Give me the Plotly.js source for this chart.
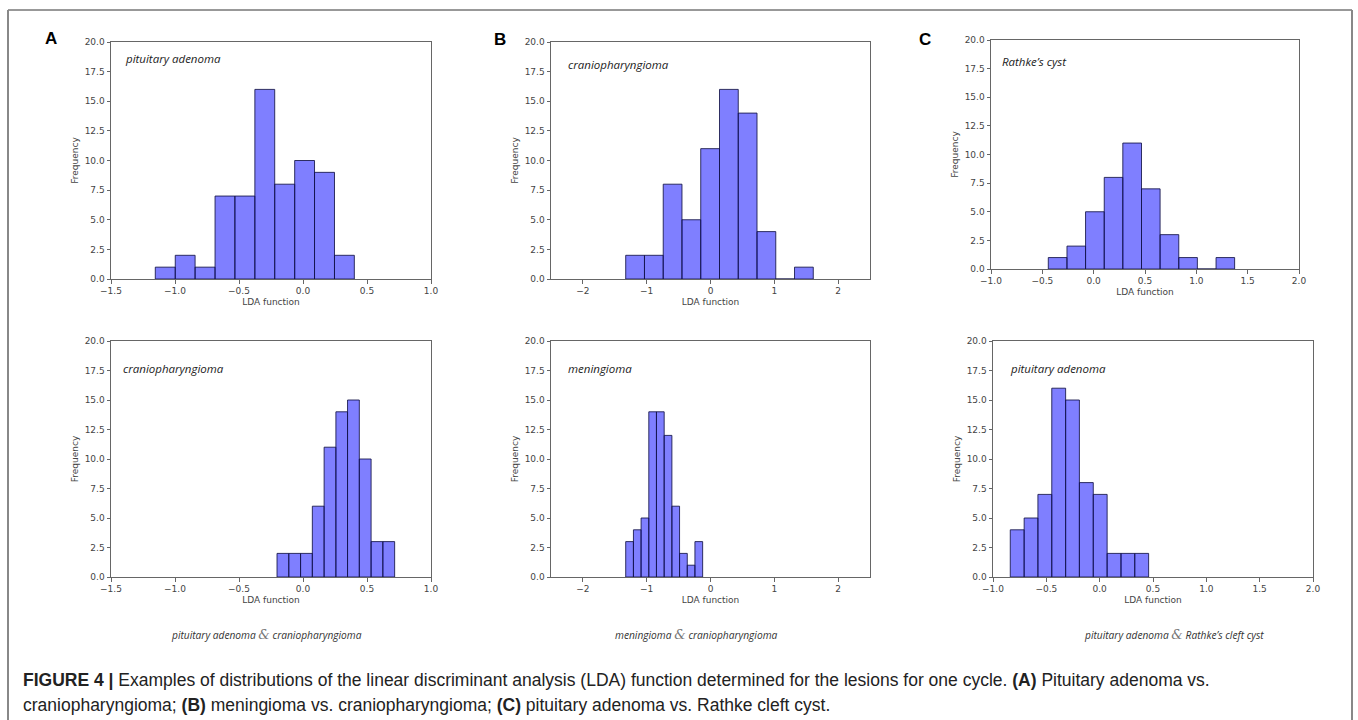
<!DOCTYPE html>
<html>
<head>
<meta charset="utf-8">
<script src="https://cdn.plot.ly/plotly-3.0.1.min.js"></script>
<style>
html,body{margin:0;padding:0;background:#fff;}
#chart{width:1358px;height:720px;}
</style>
</head>
<body>
<div id="chart"></div>
<script>
// ---- data (bin edges and frequencies) ----
const edgesA1 = [-1.154, -0.998, -0.843, -0.687, -0.532, -0.376, -0.221, -0.065, 0.090, 0.246, 0.401];
const countsA1 = [1, 2, 1, 7, 7, 16, 8, 10, 9, 2];
const edgesB1 = [-1.329, -1.035, -0.741, -0.447, -0.153, 0.141, 0.435, 0.729, 1.023, 1.317, 1.611];
const countsB1 = [2, 2, 8, 5, 11, 16, 14, 4, 0, 1];
const edgesC1 = [-0.442, -0.260, -0.079, 0.103, 0.284, 0.466, 0.647, 0.829, 1.010, 1.192, 1.373];
const countsC1 = [1, 2, 5, 8, 11, 7, 3, 1, 0, 1];
const edgesA2 = [-0.203, -0.111, -0.019, 0.073, 0.165, 0.257, 0.348, 0.440, 0.532, 0.624, 0.716];
const countsA2 = [2, 2, 2, 6, 11, 14, 15, 10, 3, 3];
const edgesB2 = [-1.329, -1.208, -1.088, -0.967, -0.847, -0.726, -0.605, -0.485, -0.364, -0.244, -0.123];
const countsB2 = [3, 4, 5, 14, 14, 12, 6, 2, 1, 3];
const edgesC2 = [-0.838, -0.708, -0.579, -0.449, -0.319, -0.190, -0.060, 0.070, 0.200, 0.329, 0.459];
const countsC2 = [4, 5, 7, 16, 15, 8, 7, 2, 2, 2];

const panelLabels = ["pituitary adenoma", "craniopharyngioma", "Rathke\u2019s cyst",
                     "craniopharyngioma", "meningioma", "pituitary adenoma"];
const pairLeft = ["pituitary adenoma", "meningioma", "pituitary adenoma"];
const pairRight = ["craniopharyngioma", "craniopharyngioma", "Rathke\u2019s cleft cyst"];
const figLetters = ["A", "B", "C"];
const xRanges = [[-1.5, 1.0], [-2.5, 2.5], [-1.0, 2.0]];
const xDticks = [0.5, 1, 0.5];
const xFormats = [".1f", "d", ".1f"];
const xTitle = "LDA function";
const yTitle = "Frequency";
const captionLine1 = "<b>FIGURE 4 |</b> Examples of distributions of the linear discriminant analysis (LDA) function determined for the lesions for one cycle. <b>(A)</b> Pituitary adenoma vs.";
const captionLine2 = "craniopharyngioma; <b>(B)</b> meningioma vs. craniopharyngioma; <b>(C)</b> pituitary adenoma vs. Rathke cleft cyst.";

// ---- layout geometry ----
const W = 1358, H = 720;
const px = v => v / W;
const py = v => 1 - v / H;
// panel boxes in pixels [x0, x1, yTop, yBottom]
const boxes = [
  [111, 431, 42, 279], [551, 870, 42, 279], [991, 1299, 40, 269],
  [111, 431, 341, 577], [551, 870, 341, 577], [993, 1313, 341, 577]
];
const edgesAll = [edgesA1, edgesB1, edgesC1, edgesA2, edgesB2, edgesC2];
const countsAll = [countsA1, countsB1, countsC1, countsA2, countsB2, countsC2];

const traces = [];
const layout = {
  width: W, height: H,
  margin: {l: 0, r: 0, t: 0, b: 0},
  paper_bgcolor: "#fff", plot_bgcolor: "#fff",
  showlegend: false,
  font: {family: "DejaVu Sans", size: 9, color: "#444"},
  annotations: [], shapes: []
};

for (let i = 0; i < 6; i++) {
  const e = edgesAll[i], c = countsAll[i];
  const centers = [], widths = [];
  for (let k = 0; k < c.length; k++) {
    centers.push((e[k] + e[k + 1]) / 2);
    widths.push(e[k + 1] - e[k]);
  }
  const sfx = i === 0 ? "" : String(i + 1);
  traces.push({
    type: "bar", x: centers, y: c, width: widths,
    xaxis: "x" + sfx, yaxis: "y" + sfx,
    marker: {color: "rgba(0,0,255,0.5)", line: {color: "rgba(20,20,70,0.85)", width: 1}},
    hoverinfo: "x+y"
  });
  const b = boxes[i];
  const col = i % 3;
  const common = {
    showline: true, mirror: true, linecolor: "#666", linewidth: 1,
    ticks: "outside", ticklen: 3.5, tickcolor: "#666", tickwidth: 1,
    showgrid: false, zeroline: false, fixedrange: true,
    tickfont: {family: "DejaVu Sans", size: 9, color: "#444"}
  };
  layout["xaxis" + sfx] = Object.assign({}, common, {
    domain: [px(b[0]), px(b[1])], anchor: "y" + sfx,
    range: xRanges[col], dtick: xDticks[col], tick0: 0, tickformat: xFormats[col],
    title: {text: xTitle, font: {family: "DejaVu Sans", size: 9, color: "#444"}, standoff: 3}
  });
  layout["yaxis" + sfx] = Object.assign({}, common, {
    domain: [py(b[3]), py(b[2])], anchor: "x" + sfx,
    range: [0, 20], dtick: 2.5, tick0: 0, tickformat: ".1f",
    title: {text: yTitle, font: {family: "DejaVu Sans", size: 9, color: "#444"}, standoff: 4}
  });
  // panel label (italic)
  layout.annotations.push({
    text: panelLabels[i], xref: "x" + sfx + " domain", yref: "y" + sfx + " domain",
    x: i === 2 ? 0.03 : (i === 0 ? 0.037 : (i === 3 ? 0.031 : 0.047)),
    y: i < 3 ? (i === 0 ? 0.93 : 0.905) : 0.882,
    xanchor: "left", yanchor: "middle", showarrow: false,
    font: {family: "Open Sans", size: 11.5, color: "#222", style: "italic"}
  });
}

// figure letters
const letterPos = [[51, 38], [500, 39], [925, 39]];
for (let j = 0; j < 3; j++) {
  layout.annotations.push({
    text: "<b>" + figLetters[j] + "</b>", xref: "paper", yref: "paper",
    x: px(letterPos[j][0]), y: py(letterPos[j][1]), xanchor: "center", yanchor: "middle",
    showarrow: false, font: {family: "Liberation Sans, Arial", size: 17, color: "#000"}
  });
}
// pair subtitles
const pairX = [266, 697, 1174];
for (let j = 0; j < 3; j++) {
  layout.annotations.push({
    text: pairLeft[j] + ' <span style="font-family:DejaVu Serif;font-style:italic;font-size:13px;color:#777">&amp;</span> ' + pairRight[j],
    xref: "paper", yref: "paper", x: px(pairX[j]), y: py(634),
    xanchor: "center", yanchor: "middle", showarrow: false,
    font: {family: "Open Sans", size: 10.2, color: "#333", style: "italic"}
  });
}
// caption
layout.annotations.push({
  text: captionLine1, xref: "paper", yref: "paper", x: px(21), y: py(680),
  xanchor: "left", yanchor: "middle", showarrow: false,
  font: {family: "Liberation Sans, Arial", size: 17.5, color: "#222"}
});
layout.annotations.push({
  text: captionLine2, xref: "paper", yref: "paper", x: px(21), y: py(705),
  xanchor: "left", yanchor: "middle", showarrow: false,
  font: {family: "Liberation Sans, Arial", size: 17.5, color: "#222"}
});
// outer frame
layout.shapes.push(
  {type: "line", xref: "paper", yref: "paper", x0: px(8), x1: px(1352), y0: py(10), y1: py(10), line: {color: "#333", width: 1}},
  {type: "line", xref: "paper", yref: "paper", x0: px(8), x1: px(8), y0: py(10), y1: -0.05, line: {color: "#888", width: 2}},
  {type: "line", xref: "paper", yref: "paper", x0: px(1352), x1: px(1352), y0: py(10), y1: -0.05, line: {color: "#888", width: 2}}
);

Plotly.newPlot("chart", traces, layout, {displayModeBar: false, staticPlot: true});
</script>
</body>
</html>
